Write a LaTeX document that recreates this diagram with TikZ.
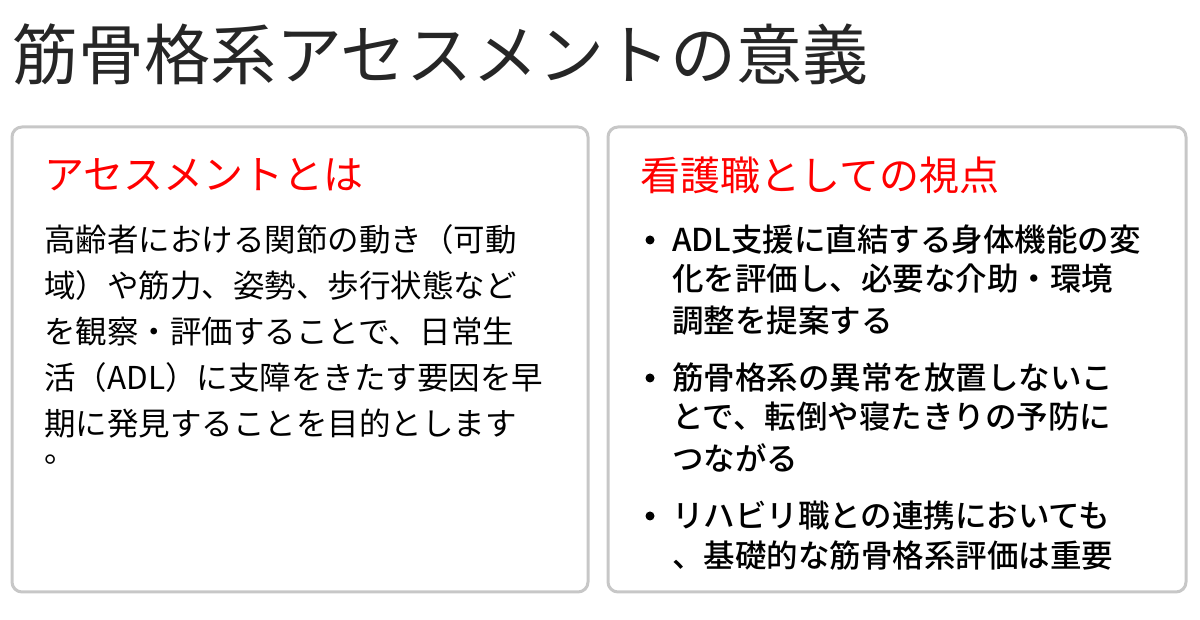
\documentclass[tikz,border=0pt]{standalone}
\usepackage{fontspec}
\newfontfamily\jp{Noto Sans CJK JP}
\newfontfamily\jpm{Noto Sans CJK JP Medium}
\begin{document}
\begin{tikzpicture}[x=1pt,y=1pt,
  box/.style={draw=black!22,line width=3pt,rounded corners=10pt},
  head/.style={anchor=west,inner sep=0,text=red,font=\jp\fontsize{40}{40}\selectfont},
  body/.style={anchor=west,inner sep=0,font=\jp\fontsize{31.5}{31.5}\selectfont},
  rbody/.style={anchor=west,inner sep=0,font=\jpm\fontsize{31.5}{31.5}\selectfont},
  dot/.style={circle,fill=black,inner sep=0,minimum size=9pt}]
\useasboundingbox (0,0) rectangle (1200,620);
\node[anchor=west,inner sep=0,font=\jp\fontsize{66}{66}\selectfont,text=black!85] (title) at (12,566) {筋骨格系アセスメントの意義};
\draw[box] (12,28) rectangle (588,493);
\draw[box] (608,28) rectangle (1186,493);
\node[head] (h1) at (44,445) {アセスメントとは};
\node[body] (l1) at (44,380) {高齢者における関節の動き（可動};
\node[body] (l2) at (44,334) {域）や筋力、姿勢、歩行状態など};
\node[body] (l3) at (44,288) {を観察・評価することで、日常生};
\node[body] (l4) at (44,242) {活（ADL）に支障をきたす要因を早};
\node[body] (l5) at (44,196) {期に発見することを目的とします};
\node[body] (l6) at (44,160) {。};
\node[head] (h2) at (640,445) {看護職としての視点};
\node[dot] (b1) at (650,380) {};
\node[rbody] (r1) at (672,380) {ADL支援に直結する身体機能の変};
\node[rbody] (r2) at (672,341) {化を評価し、必要な介助・環境};
\node[rbody] (r3) at (672,299) {調整を提案する};
\node[dot] (b2) at (650,242) {};
\node[rbody] (r4) at (672,242) {筋骨格系の異常を放置しないこ};
\node[rbody] (r5) at (672,203) {とで、転倒や寝たきりの予防に};
\node[rbody] (r6) at (672,162) {つながる};
\node[dot] (b3) at (650,104) {};
\node[rbody] (r7) at (672,104) {リハビリ職との連携においても};
\node[rbody] (r8) at (672,64) {、基礎的な筋骨格系評価は重要};
\end{tikzpicture}
\end{document}
